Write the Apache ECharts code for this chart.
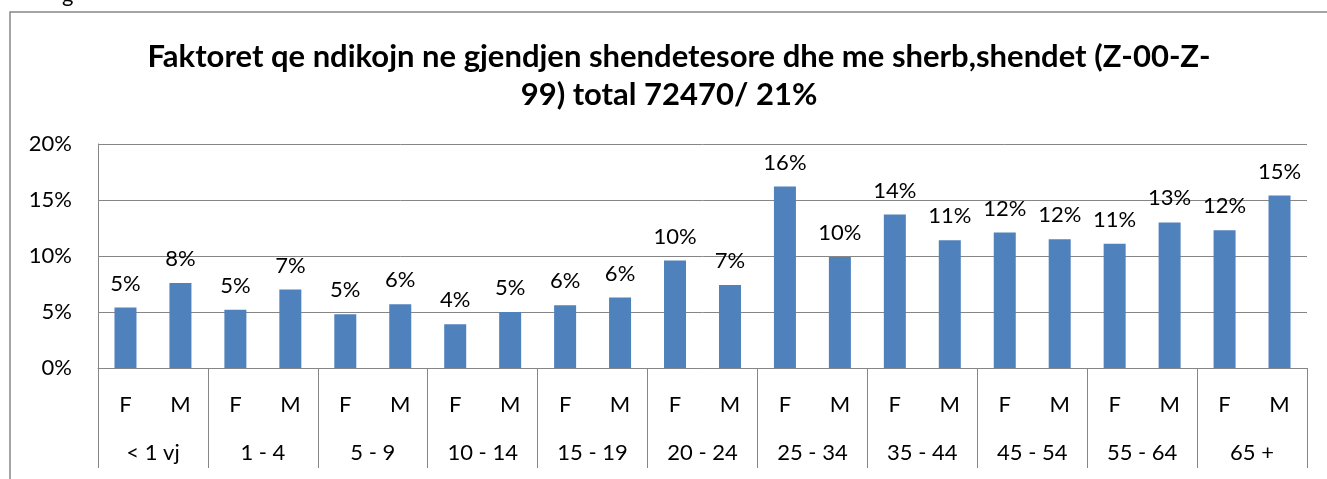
<!DOCTYPE html>
<html>
<head>
<meta charset="utf-8">
<script src="https://cdn.jsdelivr.net/npm/echarts@6/dist/echarts.min.js"></script>
<style>
    html, body { margin: 0; padding: 0; background: #fff; }
    #faktoretChart { width: 1327px; height: 479px; }
</style>
</head>
<body>
<div id="faktoretChart"></div>
<script>
    // grupmoshat dhe gjinia
    const groups = ['< 1 vj', '1 - 4', '5 - 9', '10 - 14', '15 - 19', '20 - 24', '25 - 34', '35 - 44', '45 - 54', '55 - 64', '65 +'];
    const sexes = ['F', 'M'];
    // perqindjet F, M per cdo grupmoshe
    const values = [5.4, 7.6, 5.2, 7.0, 4.8, 5.7, 3.9, 5.0, 5.6, 6.3, 9.6, 7.4, 16.2, 9.9, 13.7, 11.4, 12.1, 11.5, 11.1, 13.0, 12.3, 15.4];
    const yTicks = [0, 5, 10, 15, 20];

    const titleLines = ['Faktoret qe ndikojn ne gjendjen shendetesore dhe me sherb,shendet (Z-00-Z-', '99) total 72470/ 21%'];

    const categories = [];
    groups.forEach(() => sexes.forEach(s => categories.push(s)));

    const font = 'Lato, "Open Sans", sans-serif';
    const gridColor = '#868686';

    const chart = echarts.init(document.getElementById('faktoretChart'));
    const option = {
        animation: false,
        textStyle: {fontFamily: font},
        graphic: [
            {type: 'rect', shape: {x: 10, y: 12, width: 1400, height: 600},
                style: {fill: null, stroke: gridColor, lineWidth: 1.5}},
            {type: 'text', x: 62, y: -16, style: {text: 'g', font: '22px ' + font, fill: '#000'}},
            {type: 'text', x: 679, y: 57, style: {text: titleLines[0], font: 'bold 31px ' + font,
                fill: '#000', align: 'center', verticalAlign: 'middle'}},
            {type: 'text', x: 669, y: 95, style: {text: titleLines[1], font: 'bold 31px ' + font,
                fill: '#000', align: 'center', verticalAlign: 'middle'}}
        ],
        grid: {left: 98, right: 20, top: 144, bottom: 111, containLabel: false},
        xAxis: [{
            type: 'category',
            data: categories,
            axisLine: {show: true, lineStyle: {color: gridColor, width: 1}},
            axisTick: {show: false},
            axisLabel: {interval: 0, margin: 26, fontSize: 22, color: '#000', fontFamily: font}
        }, {
            type: 'category',
            data: groups,
            position: 'bottom',
            axisLine: {show: false},
            axisTick: {show: true, length: 100, interval: 0, lineStyle: {color: gridColor, width: 1}},
            axisLabel: {interval: 0, margin: 74, fontSize: 22, color: '#000', fontFamily: font}
        }],
        yAxis: {
            type: 'value',
            min: yTicks[0],
            max: yTicks[yTicks.length - 1],
            interval: 5,
            axisLine: {show: true, lineStyle: {color: gridColor, width: 1}},
            axisTick: {show: false},
            splitLine: {lineStyle: {color: gridColor, width: 1}},
            axisLabel: {margin: 26, fontSize: 22, color: '#000', fontFamily: font, formatter: '{value}%'}
        },
        series: [{
            type: 'bar',
            xAxisIndex: 0,
            data: values,
            barWidth: 22,
            itemStyle: {color: '#4F81BD'},
            label: {
                show: true,
                position: 'top',
                distance: 13,
                fontSize: 22,
                color: '#000',
                fontFamily: font,
                formatter: v => Math.round(v.value) + '%'
            }
        }]
    };
    chart.setOption(option);
</script>
</body>
</html>
